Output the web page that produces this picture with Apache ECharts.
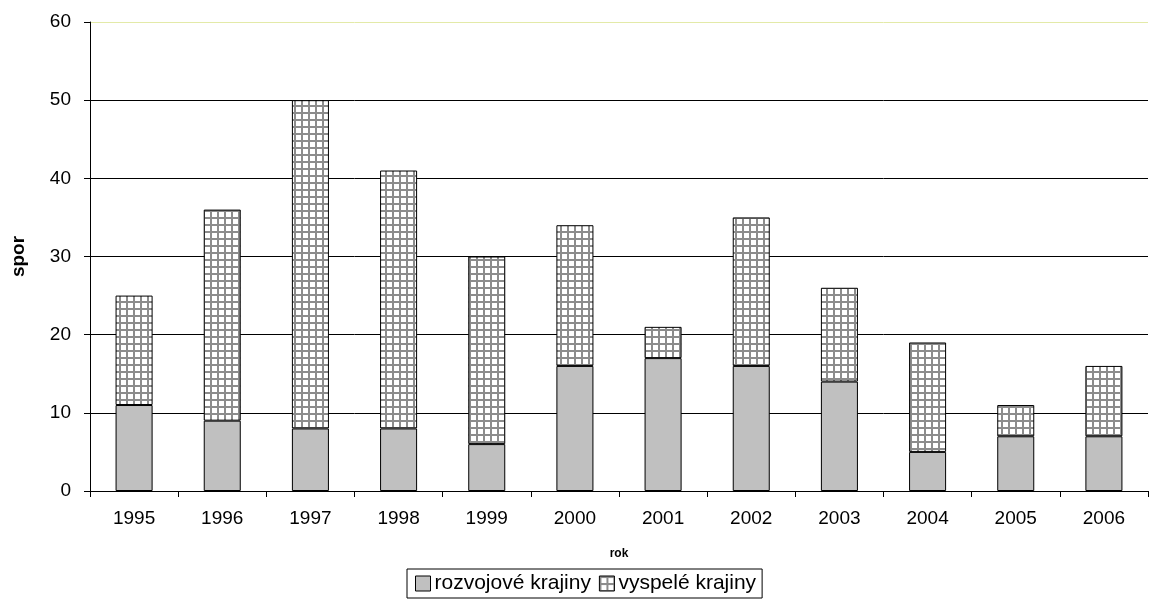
<!DOCTYPE html>
<html><head><meta charset="utf-8">
<script src="https://cdn.jsdelivr.net/npm/echarts@6/dist/echarts.min.js"></script>
<style>html,body{margin:0;padding:0;background:#fff}#c{width:1156px;height:599px}</style>
</head><body><div id="c"></div>
<script>
const years = ['1995','1996','1997','1998','1999','2000','2001','2002','2003','2004','2005','2006'];
const rozvojove = [11, 9, 8, 8, 6, 16, 17, 16, 14, 5, 7, 7];
const vyspele = [14, 27, 42, 33, 24, 18, 4, 19, 12, 14, 4, 9];
const yTicks = [0, 10, 20, 30, 40, 50, 60];

const pc = document.createElement('canvas');
pc.width = 7; pc.height = 7;
const g = pc.getContext('2d');
g.fillStyle = '#ffffff'; g.fillRect(0,0,7,7);
g.fillStyle = '#8c8c8c';
g.fillRect(0,0,7,2);
g.fillRect(0,0,2,7);

const font = '"Liberation Sans", Arial, sans-serif';
const chart = echarts.init(document.getElementById('c'));
chart.setOption({
  animation: false,
  textStyle: {fontFamily: font},
  grid: {left: 90, right: 8, top: 22, bottom: 108, containLabel: false, outerBoundsMode: 'none'},
  legend: {
    top: 569, left: 407,
    data: [
      {name: 'rozvojové krajiny', itemStyle: {color: '#c0c0c0', borderColor: '#000', borderWidth: 1}},
      {name: 'vyspelé krajiny', itemStyle: {color: {image: pc, repeat: 'repeat'}, borderColor: '#000', borderWidth: 1}}
    ],
    icon: 'rect', itemWidth: 15, itemHeight: 15, itemGap: 8,
    borderColor: '#000', borderWidth: 1, padding: [4, 6, 4, 8],
    textStyle: {fontSize: 21, color: '#000', fontFamily: font, padding: [0,0,0,-1]}
  },
  xAxis: {
    type: 'category', data: years,
    name: 'rok', nameLocation: 'middle', nameGap: 57,
    nameTextStyle: {fontSize: 12, fontWeight: 'bold', color: '#000'},
    axisLine: {lineStyle: {color: '#000'}},
    axisTick: {show: true, length: 6, lineStyle: {color: '#000'}},
    axisLabel: {fontSize: 19, color: '#000', margin: 18}
  },
  yAxis: {
    type: 'value', min: 0, max: 60, interval: 10,
    name: 'spor', nameLocation: 'middle', nameGap: 62,
    nameTextStyle: {fontSize: 19, fontWeight: 'bold', color: '#000'},
    axisLine: {show: true, lineStyle: {color: '#000'}},
    axisTick: {show: true, length: 6, lineStyle: {color: '#000'}},
    axisLabel: {fontSize: 19, color: '#000', margin: 19},
    splitLine: {lineStyle: {color: ['#000','#000','#000','#000','#000','#000','#e3eaa8'], width: 1}}
  },
  series: [
    {name: 'rozvojové krajiny', type: 'bar', stack: 's', data: rozvojove, barWidth: '42%',
     itemStyle: {color: '#c0c0c0', borderColor: '#000', borderWidth: 1}},
    {name: 'vyspelé krajiny', type: 'bar', stack: 's', data: vyspele, barWidth: '42%',
     itemStyle: {color: {image: pc, repeat: 'repeat'}, borderColor: '#000', borderWidth: 1}}
  ]
});
</script></body></html>
